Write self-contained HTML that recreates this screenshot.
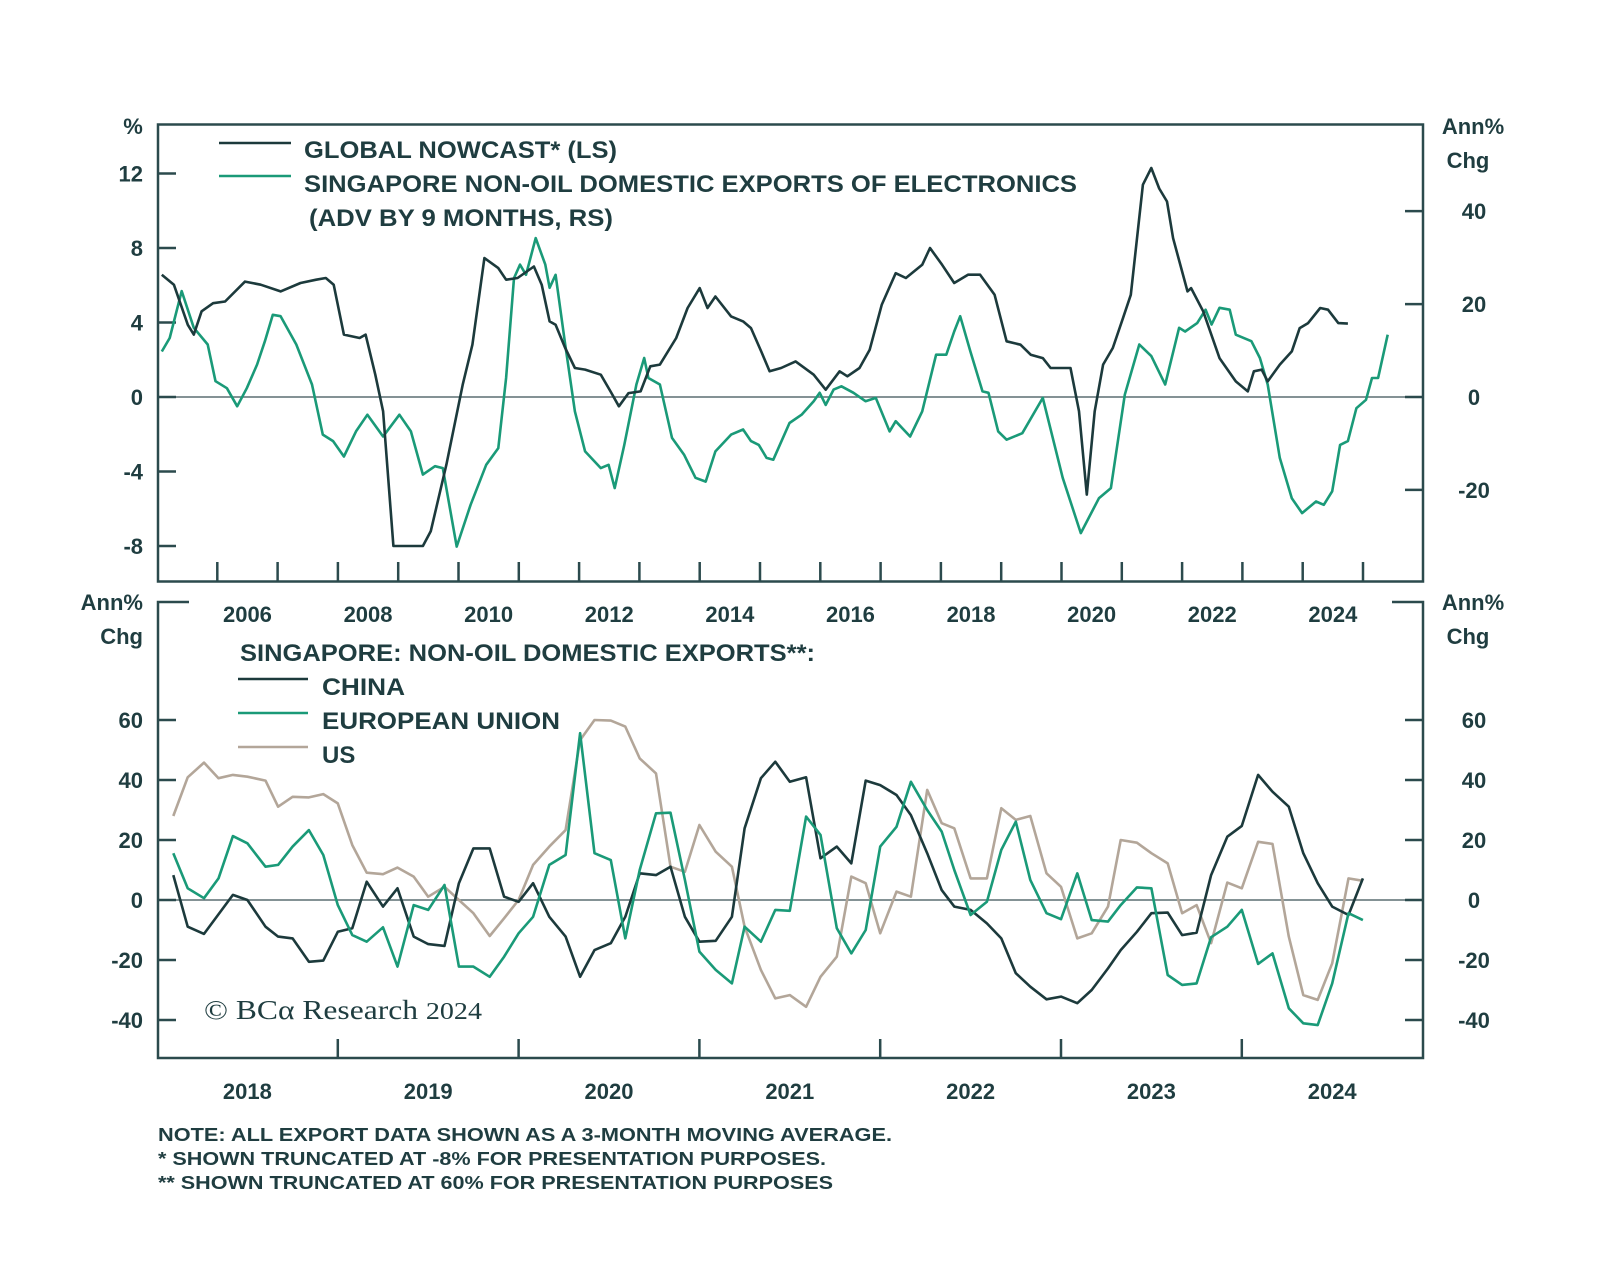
<!DOCTYPE html>
<html><head><meta charset="utf-8"><style>
html,body{margin:0;padding:0;background:#fff;}
svg{display:block;}
text{font-family:"Liberation Sans",sans-serif;font-weight:bold;fill:#1f3d40;}
</style></head>
<body>
<svg id="chart" width="1600" height="1275" viewBox="0 0 1600 1275" xmlns="http://www.w3.org/2000/svg">
<rect x="0" y="0" width="1600" height="1275" fill="#fff"/>
<g id="top-panel">
<rect x="158" y="124.5" width="1265" height="457" fill="none" stroke="#2b4a4d" stroke-width="2.5"/>
<text x="133" y="134" font-size="22" text-anchor="middle">%</text>
<text x="1473" y="134" font-size="22" text-anchor="middle">Ann%</text>
<text x="1468" y="168" font-size="22" text-anchor="middle">Chg</text>
<g id="top-axes"></g>
<g id="top-lines"></g>
<g>
<line x1="219" y1="143" x2="291" y2="143" stroke="#1c3a3c" stroke-width="2.5"/>
<text x="304" y="158" font-size="24" textLength="313" lengthAdjust="spacingAndGlyphs">GLOBAL NOWCAST* (LS)</text>
<line x1="219" y1="176" x2="291" y2="176" stroke="#1a9a78" stroke-width="2.5"/>
<text x="304" y="192" font-size="24" textLength="773" lengthAdjust="spacingAndGlyphs">SINGAPORE NON-OIL DOMESTIC EXPORTS OF ELECTRONICS</text>
<text x="309" y="226" font-size="24" textLength="304" lengthAdjust="spacingAndGlyphs">(ADV BY 9 MONTHS, RS)</text>
</g>
</g>
<g id="bottom-panel">
<path d="M189 602 H158 V1058 H1423 V602 H1392" fill="none" stroke="#2b4a4d" stroke-width="2.5"/>
<text x="143" y="610" font-size="22" text-anchor="end">Ann%</text>
<text x="143" y="644" font-size="22" text-anchor="end">Chg</text>
<text x="1473" y="610" font-size="22" text-anchor="middle">Ann%</text>
<text x="1468" y="644" font-size="22" text-anchor="middle">Chg</text>
<g id="bottom-axes"></g>
<g id="bottom-lines"></g>
<g>
<text x="240" y="661" font-size="24" textLength="575" lengthAdjust="spacingAndGlyphs">SINGAPORE: NON-OIL DOMESTIC EXPORTS**:</text>
<line x1="238" y1="679" x2="308" y2="679" stroke="#1c3a3c" stroke-width="2.5"/>
<text x="322" y="695" font-size="24" textLength="83" lengthAdjust="spacingAndGlyphs">CHINA</text>
<line x1="238" y1="713" x2="308" y2="713" stroke="#1a9a78" stroke-width="2.5"/>
<text x="322" y="729" font-size="24" textLength="238" lengthAdjust="spacingAndGlyphs">EUROPEAN UNION</text>
<line x1="238" y1="747" x2="308" y2="747" stroke="#b3a699" stroke-width="2.5"/>
<text x="322" y="763" font-size="24">US</text>
</g>
<text x="204" y="1019" font-size="27" textLength="278" lengthAdjust="spacingAndGlyphs" style="font-family:'Liberation Serif',serif;font-weight:normal">© BCα Research <tspan font-size="24">2024</tspan></text>
</g>
<g>
<text x="158" y="1141" font-size="18.5" textLength="734" lengthAdjust="spacingAndGlyphs">NOTE: ALL EXPORT DATA SHOWN AS A 3-MONTH MOVING AVERAGE.</text>
<text x="158" y="1165" font-size="18.5" textLength="668" lengthAdjust="spacingAndGlyphs">* SHOWN TRUNCATED AT -8% FOR PRESENTATION PURPOSES.</text>
<text x="158" y="1189" font-size="18.5" textLength="675" lengthAdjust="spacingAndGlyphs">** SHOWN TRUNCATED AT 60% FOR PRESENTATION PURPOSES</text>
</g>
</svg>
<script>
// ---- Top chart data ----
const topYearLabels = ["2006","2008","2010","2012","2014","2016","2018","2020","2022","2024"];
const topLeftTicks = [12,8,4,0,-4,-8];
const topRightTicks = [40,20,0,-20];
const nowcastDates = [2005.08,2005.28,2005.51,2005.61,2005.74,2005.93,2006.13,2006.46,2006.72,2007.05,2007.38,2007.64,2007.8,2007.93,2008.1,2008.36,2008.46,2008.62,2008.75,2008.92,2009.41,2009.54,2009.8,2010.07,2010.23,2010.43,2010.66,2010.79,2010.98,2011.25,2011.38,2011.51,2011.61,2011.77,2011.93,2012.1,2012.36,2012.52,2012.66,2012.82,2013.02,2013.18,2013.34,2013.61,2013.8,2014.0,2014.13,2014.26,2014.52,2014.72,2014.85,2015.02,2015.16,2015.35,2015.59,2015.89,2016.09,2016.32,2016.45,2016.65,2016.82,2017.02,2017.25,2017.42,2017.69,2017.82,2018.02,2018.22,2018.45,2018.65,2018.89,2019.09,2019.32,2019.49,2019.69,2019.82,2020.15,2020.29,2020.42,2020.55,2020.69,2020.85,2021.02,2021.15,2021.35,2021.49,2021.62,2021.75,2021.85,2022.09,2022.15,2022.35,2022.62,2022.89,2023.09,2023.19,2023.32,2023.42,2023.62,2023.82,2023.95,2024.09,2024.29,2024.42,2024.59,2024.75];
const nowcastValues = [6.57,6.03,3.88,3.35,4.6,5.04,5.13,6.2,6.03,5.67,6.12,6.3,6.39,6.03,3.35,3.17,3.35,1.2,-0.77,-8,-8,-7.2,-3.63,0.66,2.81,7.46,6.92,6.3,6.39,7.01,6.03,4.06,3.88,2.63,1.56,1.47,1.2,0.3,-0.5,0.21,0.3,1.65,1.74,3.17,4.78,5.85,4.78,5.4,4.33,4.06,3.7,2.45,1.38,1.56,1.91,1.2,0.39,1.38,1.11,1.56,2.54,4.96,6.65,6.39,7.1,8.0,7.1,6.12,6.57,6.57,5.49,2.99,2.81,2.27,2.09,1.56,1.56,-0.77,-5.24,-0.77,1.74,2.63,4.24,5.49,11.4,12.3,11.2,10.5,8.53,5.67,5.85,4.6,2.09,0.84,0.3,1.38,1.47,0.84,1.74,2.45,3.7,3.97,4.78,4.69,3.97,3.94];
const electronicsDates = [2005.08,2005.21,2005.41,2005.61,2005.84,2005.97,2006.16,2006.33,2006.49,2006.66,2006.79,2006.92,2007.05,2007.31,2007.57,2007.75,2007.92,2008.1,2008.3,2008.49,2008.75,2009.02,2009.21,2009.41,2009.61,2009.74,2009.97,2010.2,2010.46,2010.66,2010.79,2010.92,2011.02,2011.12,2011.28,2011.44,2011.51,2011.61,2011.77,2011.93,2012.1,2012.36,2012.49,2012.59,2012.75,2012.95,2013.08,2013.15,2013.34,2013.54,2013.74,2013.93,2014.1,2014.26,2014.52,2014.72,2014.85,2014.98,2015.11,2015.22,2015.49,2015.69,2015.89,2015.99,2016.09,2016.22,2016.35,2016.55,2016.75,2016.92,2017.15,2017.25,2017.49,2017.69,2017.92,2018.09,2018.22,2018.32,2018.49,2018.69,2018.79,2018.95,2019.09,2019.35,2019.69,2020.02,2020.32,2020.62,2020.82,2021.05,2021.29,2021.49,2021.72,2021.95,2022.05,2022.25,2022.39,2022.49,2022.62,2022.79,2022.89,2023.15,2023.29,2023.42,2023.62,2023.82,2023.99,2024.22,2024.35,2024.49,2024.62,2024.75,2024.89,2025.05,2025.15,2025.25,2025.41];
const electronicsValues = [9.8,12.7,22.8,14.9,11.3,3.4,1.9,-2.0,1.9,7.0,12.0,17.7,17.4,11.3,2.7,-8.1,-9.5,-12.8,-7.4,-3.8,-8.5,-3.8,-7.4,-16.7,-14.9,-15.3,-32.2,-23.2,-14.6,-11.0,4.1,25.6,28.5,26.3,34.2,28.5,23.5,26.3,11.3,-3.1,-11.7,-15.3,-14.6,-19.6,-10.3,2.7,8.4,4.1,2.7,-8.8,-12.4,-17.4,-18.2,-11.7,-8.1,-7.0,-9.5,-10.3,-13.1,-13.5,-5.6,-3.8,-0.9,0.9,-1.7,1.6,2.3,0.9,-0.9,-0.2,-7.4,-5.2,-8.5,-3.1,9.1,9.1,14.1,17.4,9.8,1.2,0.9,-7.4,-9.2,-7.8,-0.2,-17.4,-29.3,-21.8,-19.6,0.5,11.3,8.8,2.7,14.9,14.1,15.9,18.8,15.6,19.2,18.8,13.4,12.0,8.4,2.7,-13.1,-21.8,-25.0,-22.5,-23.2,-20.3,-10.3,-9.5,-2.4,-0.6,4.1,4.1,13.4];

// ---- Bottom chart data ----
const bottomYearLabels = ["2018","2019","2020","2021","2022","2023","2024"];
const bottomTicks = [60,40,20,0,-20,-40];
const chinaDates = [2018.09,2018.17,2018.26,2018.42,2018.5,2018.6,2018.67,2018.75,2018.84,2018.92,2019.0,2019.08,2019.16,2019.25,2019.33,2019.42,2019.5,2019.59,2019.67,2019.75,2019.84,2019.92,2020.0,2020.08,2020.17,2020.26,2020.34,2020.42,2020.51,2020.59,2020.67,2020.76,2020.84,2020.92,2021.0,2021.09,2021.18,2021.25,2021.34,2021.42,2021.5,2021.59,2021.67,2021.76,2021.84,2021.92,2022.0,2022.09,2022.17,2022.26,2022.34,2022.41,2022.5,2022.59,2022.67,2022.75,2022.83,2022.92,2023.0,2023.09,2023.17,2023.26,2023.33,2023.42,2023.5,2023.59,2023.67,2023.75,2023.83,2023.92,2024.0,2024.09,2024.17,2024.26,2024.34,2024.42,2024.5,2024.59,2024.67];
const chinaValues = [8.3,-8.9,-11.3,1.7,0,-8.9,-12.2,-12.8,-20.6,-20.2,-10.6,-9.4,6.1,-2.2,3.9,-12.2,-14.7,-15.3,5.6,17.2,17.2,1.1,-0.6,5.6,-5.6,-12.2,-25.6,-16.7,-14.4,-5.6,8.9,8.3,11.1,-5.6,-13.9,-13.6,-5.6,23.9,40.6,46.1,39.4,40.9,13.9,17.8,12.2,39.8,38.3,35,28.3,15.6,3.3,-2.2,-3.3,-7.8,-12.8,-24.4,-28.9,-33.1,-32.2,-34.4,-30,-22.8,-16.7,-10.6,-4.4,-4.2,-11.7,-10.9,8.3,21.1,24.7,41.7,36.1,31.1,15.6,5.6,-2.2,-5,7.2];
const euDates = [2018.09,2018.17,2018.26,2018.34,2018.42,2018.5,2018.6,2018.67,2018.75,2018.84,2018.92,2019.0,2019.08,2019.16,2019.25,2019.33,2019.42,2019.5,2019.59,2019.67,2019.75,2019.84,2019.92,2020.0,2020.08,2020.17,2020.26,2020.34,2020.42,2020.51,2020.59,2020.67,2020.76,2020.84,2020.92,2021.0,2021.09,2021.18,2021.25,2021.34,2021.42,2021.5,2021.59,2021.67,2021.76,2021.84,2021.92,2022.0,2022.09,2022.17,2022.26,2022.34,2022.41,2022.5,2022.59,2022.67,2022.75,2022.83,2022.92,2023.0,2023.09,2023.17,2023.26,2023.33,2023.42,2023.5,2023.59,2023.67,2023.75,2023.83,2023.92,2024.0,2024.09,2024.17,2024.26,2024.34,2024.42,2024.5,2024.59,2024.67];
const euValues = [15.6,3.9,0.6,7.2,21.3,18.9,11.1,11.7,17.8,23.3,15,-1.7,-11.7,-13.9,-9.1,-22.2,-1.7,-3.3,5,-22.2,-22.2,-25.6,-18.9,-11.1,-5.6,11.7,15,55.6,15.6,13.3,-12.8,10,28.9,29.1,6.7,-17.2,-23.3,-27.8,-8.9,-13.9,-3.3,-3.6,27.8,21.7,-9.4,-17.8,-10,17.8,24.4,39.4,30,22.8,10,-5,-0.6,16.7,26.1,6.7,-4.4,-6.4,8.9,-6.7,-7.2,-1.7,4.2,3.9,-25,-28.3,-27.8,-12.4,-8.9,-3.3,-21.3,-17.8,-36.1,-41.1,-41.7,-27.8,-4.4,-6.7];
const usDates = euDates;
const usValues = [28,40.9,45.8,40.6,41.7,41.1,39.8,31.1,34.4,34.2,35.3,32.2,18.3,9.1,8.6,10.8,7.8,1.1,4.4,0,-4.4,-12,-6.1,0,11.7,17.8,23.3,53.3,60,59.8,57.8,47.2,42.2,11.1,9.4,25,16.1,11.1,-8.9,-23.3,-32.8,-31.7,-35.6,-25.6,-18.9,7.8,5.6,-11.1,2.8,1.1,36.7,25.6,23.9,7.2,7.2,30.6,26.7,28,8.9,4.4,-12.8,-11.1,-2.2,20,19.1,15.6,12.2,-4.4,-1.7,-14.4,5.8,3.9,19.4,18.7,-12.2,-31.7,-33.3,-21.1,7.2,6.4];

const NS = "http://www.w3.org/2000/svg";
const AX = "#2b4a4d";
function xTop(yr){ return 217.3 + (yr - 2006) * 60.3; }
function yTopL(v){ return 397 - v * 18.62; }
function yTopR(v){ return 397 - v * 4.646; }
function xBot(yr){ return 157 + (yr - 2018) * 180.8; }
function yBot(v){ return 900 - v * 3.0; }
function mk(tag, attrs, parent){
  const e = document.createElementNS(NS, tag);
  for (const k in attrs) e.setAttribute(k, attrs[k]);
  parent.appendChild(e);
  return e;
}
function path(dates, vals, fx, fy){
  return dates.map((d,i)=>(i?"L":"M")+fx(d).toFixed(1)+" "+fy(vals[i]).toFixed(1)).join(" ");
}

// top axes
const ta = document.getElementById("top-axes");
const z1 = mk("line",{x1:158,x2:1423,y1:yTopL(0),y2:yTopL(0),stroke:"#5b6f72","stroke-width":1.5},ta);


topLeftTicks.forEach(v=>{
  const t = mk("line",{x1:158,x2:176,y1:yTopL(v),y2:yTopL(v),stroke:AX,"stroke-width":2.5},ta);
  
  
  const l = mk("text",{x:143,y:yTopL(v)+8,"font-size":22,"text-anchor":"end"},ta);
  l.textContent = v;
  
  
});
topRightTicks.forEach(v=>{
  const t = mk("line",{x1:1405,x2:1423,y1:yTopR(v),y2:yTopR(v),stroke:AX,"stroke-width":2.5},ta);
  
  
  const l = mk("text",{x:1474,y:yTopR(v)+8,"font-size":22,"text-anchor":"middle"},ta);
  l.textContent = v;
  
  
});
for (let yr = 2006; yr <= 2025; yr++){
  const t = mk("line",{x1:xTop(yr),x2:xTop(yr),y1:562,y2:581,stroke:AX,"stroke-width":2.5},ta);
  
  
}
topYearLabels.forEach(s=>{
  const l = mk("text",{x:xTop(+s+0.5),y:622,"font-size":22,"text-anchor":"middle"},ta);
  l.textContent = s;
  
  
});

// top lines
const tl = document.getElementById("top-lines");
const pe = mk("path",{d:path(electronicsDates,electronicsValues,xTop,yTopR),fill:"none",stroke:"#1a9a78","stroke-width":2.6,"stroke-linejoin":"round"},tl);


const pn = mk("path",{d:path(nowcastDates,nowcastValues,xTop,yTopL),fill:"none",stroke:"#1c3a3c","stroke-width":2.6,"stroke-linejoin":"round"},tl);



// bottom axes
const ba = document.getElementById("bottom-axes");
const z2 = mk("line",{x1:158,x2:1423,y1:yBot(0),y2:yBot(0),stroke:"#5b6f72","stroke-width":1.5},ba);


bottomTicks.forEach(v=>{
  const t = mk("line",{x1:158,x2:176,y1:yBot(v),y2:yBot(v),stroke:AX,"stroke-width":2.5},ba);
  
  
  const t2 = mk("line",{x1:1405,x2:1423,y1:yBot(v),y2:yBot(v),stroke:AX,"stroke-width":2.5},ba);
  
  
  const l = mk("text",{x:143,y:yBot(v)+8,"font-size":22,"text-anchor":"end"},ba);
  l.textContent = v;
  
  
  const r = mk("text",{x:1474,y:yBot(v)+8,"font-size":22,"text-anchor":"middle"},ba);
  r.textContent = v;
  
  
});
for (let yr = 2019; yr <= 2024; yr++){
  const t = mk("line",{x1:xBot(yr),x2:xBot(yr),y1:1039,y2:1058,stroke:AX,"stroke-width":2.5},ba);
  
  
}
bottomYearLabels.forEach(s=>{
  const l = mk("text",{x:xBot(+s+0.5),y:1099,"font-size":22,"text-anchor":"middle"},ba);
  l.textContent = s;
  
  
});

// bottom lines
const bl = document.getElementById("bottom-lines");
const pu = mk("path",{d:path(usDates,usValues,xBot,yBot),fill:"none",stroke:"#b3a699","stroke-width":2.6,"stroke-linejoin":"round"},bl);


const pc = mk("path",{d:path(chinaDates,chinaValues,xBot,yBot),fill:"none",stroke:"#1c3a3c","stroke-width":2.6,"stroke-linejoin":"round"},bl);


const pEU = mk("path",{d:path(euDates,euValues,xBot,yBot),fill:"none",stroke:"#1a9a78","stroke-width":2.6,"stroke-linejoin":"round"},bl);


</script>
</body></html>
